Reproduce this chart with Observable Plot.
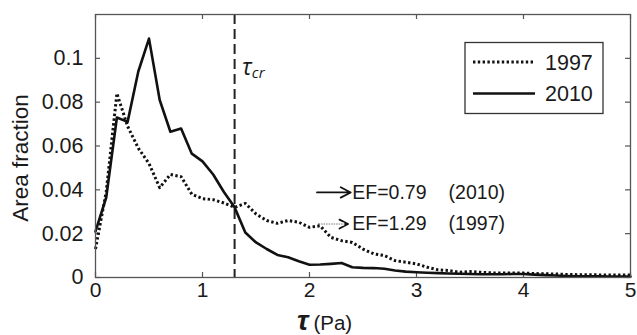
<!DOCTYPE html>
<html>
<head>
<meta charset="utf-8">
<script src="https://cdn.jsdelivr.net/npm/d3@7"></script>
<script src="https://cdn.jsdelivr.net/npm/@observablehq/plot@0.6"></script>
<style>
  html, body { margin: 0; padding: 0; background: #fff; }
  svg { display: block; }
</style>
</head>
<body>
<div id="chart"></div>
<script>
// shear stress bins (Pa)
const tau = [0.0,0.1,0.2,0.3,0.4,0.5,0.6,0.7,0.8,0.9,
             1.0,1.1,1.2,1.3,1.4,1.5,1.6,1.7,1.8,1.9,
             2.0,2.1,2.2,2.3,2.4,2.5,2.6,2.7,2.8,2.9,
             3.0,3.1,3.2,3.3,3.4,3.5,3.6,3.7,3.8,3.9,
             4.0,4.1,4.2,4.3,4.4,4.5,4.6,4.7,4.8,4.9,5.0];
// area fraction, 1997 (dotted)
const af1997 = [0.013,0.039,0.084,0.069,0.059,0.052,0.041,0.047,0.046,0.038,
                0.036,0.0355,0.034,0.032,0.0338,0.029,0.026,0.0247,0.026,0.0252,
                0.0229,0.0236,0.0183,0.0168,0.016,0.013,0.0108,0.010,0.0077,0.007,
                0.0062,0.0047,0.0035,0.0032,0.0024,0.0027,0.0024,0.0021,0.002,0.002,
                0.002,0.0018,0.0017,0.0016,0.0014,0.0013,0.0012,0.0012,0.0011,0.0011,0.0011];
// area fraction, 2010 (solid)
const af2010 = [0.021,0.0365,0.073,0.071,0.094,0.109,0.081,0.0665,0.068,0.0565,
                0.053,0.047,0.039,0.032,0.0205,0.016,0.013,0.0103,0.0092,0.0074,
                0.0058,0.0059,0.0062,0.0066,0.0047,0.0044,0.0043,0.004,0.0032,0.0027,
                0.0024,0.0022,0.002,0.0018,0.0017,0.0016,0.0015,0.0015,0.0015,0.0016,
                0.0016,0.0013,0.0011,0.0009,0.0007,0.0006,0.0005,0.0005,0.0004,0.0004,0.0004];
const xTicks = [0,1,2,3,4,5];
const xTickLabels = ["0","1","2","3","4","5"];
const yTicks = [0,0.02,0.04,0.06,0.08,0.1];
const yTickLabels = ["0","0.02","0.04","0.06","0.08","0.1"];
const tauCr = [1.3];
const seriesNames = ["1997","2010"];
const efLabels = ["EF=0.79","EF=1.29"];
const efYears = ["(2010)","(1997)"];
// annotation anchors in data space
const efY = [0.0388, 0.0244];
const efArrowStart = [2.07, 2.09];
const efArrowEnd = [2.385, 2.36];
const efTextX = [2.40, 2.40];
const efYearX = [3.30, 3.30];

const d1997 = tau.map((t,i)=>({t, v: af1997[i]}));
const d2010 = tau.map((t,i)=>({t, v: af2010[i]}));
const ann = efLabels.map((l,i)=>({label:l, year:efYears[i], y:efY[i], x1:efArrowStart[i], x2:efArrowEnd[i], tx:efTextX[i], yx:efYearX[i]}));

const FONT = "'Liberation Sans', Arial, sans-serif";
const tickLenX = 5/107, tickLenY = 5/2200;

const chart = Plot.plot({
  width: 637, height: 335,
  marginTop: 14, marginBottom: 58, marginLeft: 95, marginRight: 7,
  x: {domain: [0, 5]},
  y: {domain: [0, 0.12]},
  style: {fontFamily: FONT, fontSize: "21px", color: "#1a1a1a", background: "#fff"},
  marks: [
    Plot.axisX(xTicks, {tickSize: 0, tickPadding: 5, label: null, tickFormat: d => xTickLabels[xTicks.indexOf(d)], fontSize: 21}),
    Plot.axisY(yTicks, {tickSize: 0, tickPadding: 12, label: null, tickFormat: d => yTickLabels[yTicks.indexOf(d)], fontSize: 21.5}),
    // inward ticks
    Plot.ruleX(xTicks, {y1: 0, y2: tickLenY, stroke: "#555", strokeWidth: 1.2}),
    Plot.ruleX(xTicks, {y1: 0.12 - tickLenY, y2: 0.12, stroke: "#555", strokeWidth: 1.2}),
    Plot.ruleY(yTicks, {x1: 0, x2: tickLenX, stroke: "#555", strokeWidth: 1.2}),
    Plot.ruleY(yTicks, {x1: 5 - tickLenX, x2: 5, stroke: "#555", strokeWidth: 1.2}),
    // critical stress
    Plot.ruleX(tauCr, {stroke: "#222", strokeWidth: 2, strokeDasharray: "10,5"}),
    // EF annotations
    Plot.arrow([ann[0]], {x1: "x1", x2: "x2", y1: "y", y2: "y", stroke: "#111", strokeWidth: 1.8, headLength: 11, headAngle: 55}),
    Plot.arrow([ann[1]], {x1: "x1", x2: "x2", y1: "y", y2: "y", stroke: "#111", strokeWidth: 1.8, headLength: 11, headAngle: 55}),
    Plot.ruleY([ann[1]], {y: "y", x1: "x1", x2: d => d.x2 - 0.03, stroke: "#fff", strokeWidth: 3}),
    Plot.ruleY([ann[1]], {y: "y", x1: "x1", x2: d => d.x2 - 0.02, stroke: "#777", strokeWidth: 1, strokeDasharray: "1.5,1"}),
    Plot.text(ann, {x: "tx", y: "y", text: "label", textAnchor: "start", lineAnchor: "middle", fontSize: 19.5, fill: "#1a1a1a"}),
    Plot.text(ann, {x: "yx", y: "y", text: "year", textAnchor: "start", lineAnchor: "middle", fontSize: 19.5, fill: "#1a1a1a"}),
    // data
    Plot.line(d1997, {x: "t", y: "v", stroke: "#111", strokeWidth: 3, strokeDasharray: "2.4,2.4", strokeLinecap: "butt"}),
    Plot.line(d2010, {x: "t", y: "v", stroke: "#111", strokeWidth: 2.6}),
    Plot.frame({stroke: "#555", strokeWidth: 1.3})
  ]
});

const svg = d3.select(chart);
const sx = chart.scale("x"), sy = chart.scale("y");

// legend (anchored to the frame's top-right corner)
const fx0 = sx.apply(5), fy0 = sy.apply(0.12);
const lg = svg.append("g").attr("font-family", FONT).attr("text-anchor", "start");
const bx = fx0 - 165, by = fy0 + 28.5, bw = 138, bh = 71;
lg.append("rect").attr("x", bx).attr("y", by).attr("width", bw).attr("height", bh)
  .attr("fill", "#fff").attr("stroke", "#333").attr("stroke-width", 1.3);
const rowsY = [by + 19.5, by + 51];
lg.append("line").attr("x1", bx + 8).attr("x2", bx + 70).attr("y1", rowsY[0]).attr("y2", rowsY[0])
  .attr("stroke", "#111").attr("stroke-width", 3).attr("stroke-dasharray", "2.4,2.4");
lg.append("line").attr("x1", bx + 8).attr("x2", bx + 70).attr("y1", rowsY[1]).attr("y2", rowsY[1])
  .attr("stroke", "#111").attr("stroke-width", 2.6);
seriesNames.forEach((s, i) => {
  lg.append("text").attr("x", bx + 80).attr("y", rowsY[i]).attr("dy", "0.36em")
    .attr("font-size", 21.5).attr("fill", "#1a1a1a").text(s);
});

// tau_cr label
const tc = svg.append("text").attr("x", sx.apply(tauCr[0]) + 8).attr("y", fy0 + 61).attr("text-anchor", "start")
  .attr("font-family", "'Open Sans', 'DejaVu Sans', sans-serif").attr("font-style", "italic").attr("fill", "#1a1a1a");
tc.append("tspan").attr("font-size", 23).text("τ");
tc.append("tspan").attr("font-size", 15).attr("dy", 3).text("cr");

// x label
const xl = svg.append("text").attr("x", 297).attr("y", 330).attr("text-anchor", "start").attr("font-family", FONT).attr("fill", "#1a1a1a");
xl.append("tspan").attr("font-size", 28).attr("font-weight", "bold").attr("font-style", "italic").text("τ");
xl.append("tspan").attr("font-size", 20.5).attr("dx", 5).text("(Pa)");

// y label
svg.append("text").attr("transform", "translate(28,158) rotate(-90)").attr("text-anchor", "middle")
  .attr("font-family", FONT).attr("font-size", 22.5).attr("fill", "#1a1a1a").text("Area fraction");

document.getElementById("chart").appendChild(chart);
</script>
</body>
</html>
